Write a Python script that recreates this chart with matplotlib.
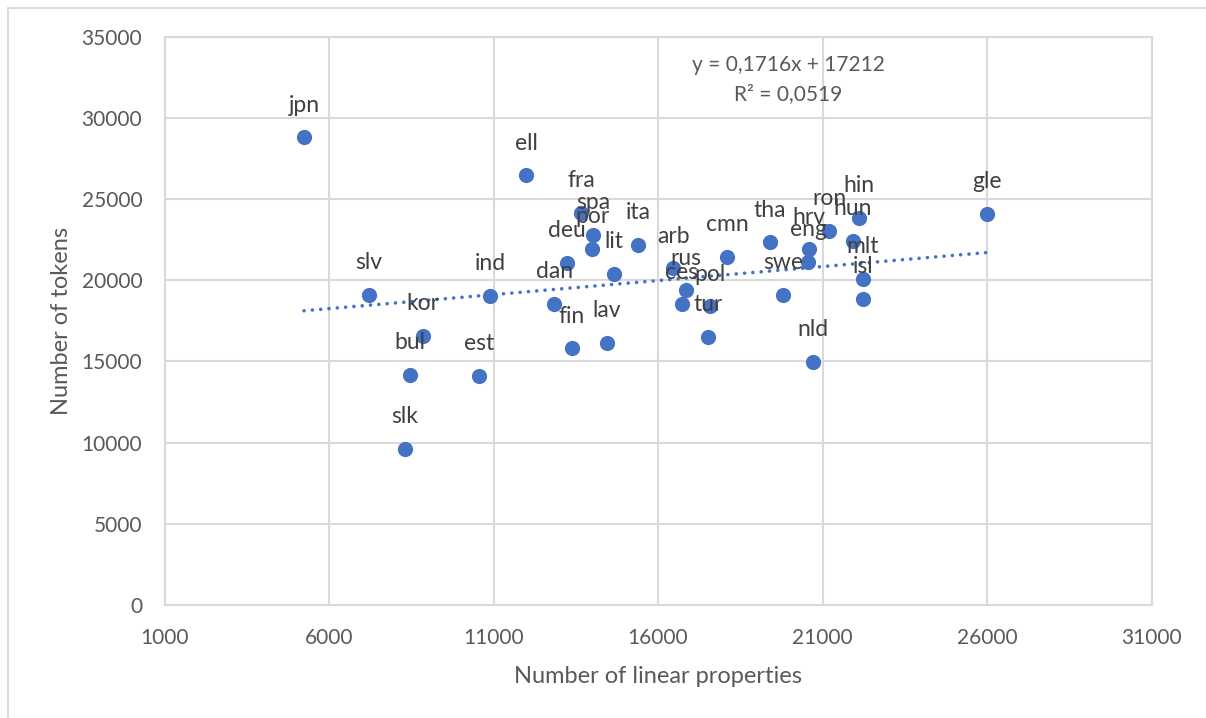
import numpy as np
import matplotlib
matplotlib.use("Agg")
import matplotlib.pyplot as plt
from matplotlib.patches import Rectangle

labels = ["jpn", "ell", "fra", "spa", "por", "deu", "lit", "ita", "dan", "fin",
          "lav", "arb", "rus", "ces", "pol", "tur", "cmn", "tha", "swe", "hrv",
          "eng", "ron", "hin", "hun", "mlt", "isl", "nld", "gle", "slv", "ind",
          "kor", "bul", "est", "slk"]
linear_props = [5241, 11990, 13662, 14026, 13996, 13236, 14665, 15394, 12841, 13388,
                14452, 16458, 16838, 16717, 17583, 17522, 18100, 19407, 19802, 20578,
                20563, 21201, 22113, 21915, 22219, 22219, 20714, 26004, 7217, 10895,
                8858, 8463, 10561, 8311]
tokens = [28810, 26464, 24180, 22822, 21958, 21093, 20414, 22204, 18562, 15815,
          16155, 20754, 19396, 18532, 18396, 16525, 21464, 22359, 19118, 21927,
          21155, 23069, 23871, 22451, 20106, 18871, 14982, 24118, 19118, 19056,
          16587, 14180, 14118, 9612]
x_ticks = [1000, 6000, 11000, 16000, 21000, 26000, 31000]
y_ticks = [0, 5000, 10000, 15000, 20000, 25000, 30000, 35000]
eq_text = "y = 0,1716x + 17212"
r2_text = "R² = 0,0519"

plt.rcParams['font.family'] = ['Lato', 'DejaVu Sans']
blue = "#4472C4"
grid = "#D9D9D9"
txt = "#595959"

W, H = 1206, 718
fig = plt.figure(figsize=(W / 100, H / 100), dpi=100)
# outer chart border
fig.patches.append(Rectangle((8 / W, -0.1), 1.2, 1 - 8 / H + 0.1, transform=fig.transFigure,
                             fill=False, edgecolor=grid, linewidth=1.3, zorder=0))

ax = fig.add_axes([164.5 / W, 1 - 604.7 / H, (1151.5 - 164.5) / W, (604.7 - 37) / H])
ax.set_xlim(x_ticks[0], x_ticks[-1])
ax.set_ylim(y_ticks[0], y_ticks[-1])
ax.set_xticks(x_ticks)
ax.set_yticks(y_ticks)
ax.grid(True, color=grid, linewidth=1.5)
ax.set_axisbelow(True)
for s in ax.spines.values():
    s.set_color(grid)
    s.set_linewidth(1.5)
ax.tick_params(length=0, labelsize=15, labelcolor=txt)
ax.tick_params(axis='y', pad=16)
ax.tick_params(axis='x', pad=17)

ax.scatter(linear_props, tokens, s=120, color=blue, zorder=3, linewidths=0)

xs = np.array(linear_props, dtype=float)
ys = np.array(tokens, dtype=float)
m, b = np.polyfit(xs, ys, 1)
xl = np.array([xs.min(), xs.max()])
ax.plot(xl, m * xl + b, color=blue, linewidth=2.6, linestyle=(0, (0.01, 2.3)),
        dash_capstyle='round', zorder=2)

for lab, xv, yv in zip(labels, linear_props, tokens):
    ax.annotate(lab, (xv, yv), xytext=(0, 23), textcoords='offset points',
                ha='center', va='center', fontsize=16.5, color="#404040", zorder=4)

ax.text(19950, 33300, eq_text, ha='center', va='center', fontsize=15, color=txt)
ax.text(19950, 31500, r2_text, ha='center', va='center', fontsize=15, color=txt)

ax.set_xlabel("Number of linear properties", fontsize=17, color=txt, labelpad=13)
ax.set_ylabel("Number of tokens", fontsize=17, color=txt, labelpad=7)

fig.savefig("out.png", dpi=100)
